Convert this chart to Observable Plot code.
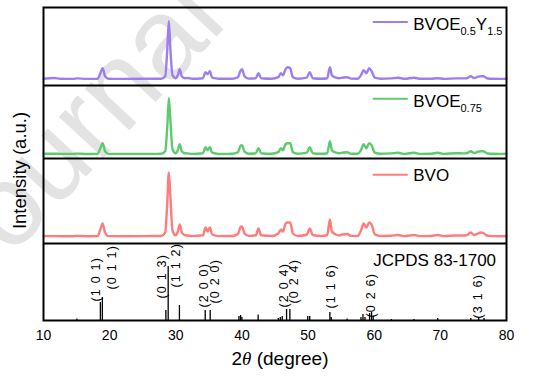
<!DOCTYPE html>
<html><head><meta charset="utf-8">
<script src="https://cdn.jsdelivr.net/npm/d3@7"></script>
<script src="https://cdn.jsdelivr.net/npm/@observablehq/plot@0.6"></script>
<style>
html,body{margin:0;padding:0;background:#fff;overflow:hidden;}
#chart{width:554px;height:382px;}
</style></head><body><div id="chart"></div>
<script>
// ---- Data ----
const twoTheta = [
  10, 11.6, 12.5, 14.5, 15.1, 16.5, 18.2, 18.6, 18.95, 19.3,
  19.8, 22, 25, 27.8, 28.4, 28.7, 28.95, 29.2, 29.5, 30.0,
  30.3, 30.6, 30.9, 31.4, 31.8, 32.5, 34.1, 34.5, 34.8, 35.15,
  35.5, 36.5, 38.5, 39.4, 39.75, 40.0, 40.4, 41.0, 42.1, 42.5,
  42.9, 44.5, 45.5, 45.9, 46.2, 46.6, 46.9, 47.3, 47.7, 48.5,
  49.8, 50.25, 50.7, 52.0, 52.9, 53.3, 53.6, 54.2, 54.7, 55.2,
  55.9, 56.5, 57.5, 58.0, 58.4, 58.8, 59.25, 59.6, 60.1, 61.0,
  62.5, 63.6, 64.6, 66.0, 67.0, 68.5, 69.6, 70.6, 72.3, 73.5,
  74.0, 74.6, 75.1, 75.7, 76.1, 76.5, 77.0, 78.0, 79.0, 80
];
const intBVOE05Y15 = [
  0.5, 1.2, 0.5, 0.3, 0.8, 0.3, 0.5, 6, 11, 3,
  0.4, 0.3, 0.4, 0.5, 3, 28, 58, 28, 4, 1,
  4, 10, 3, 1, 1.2, 0.4, 1, 7, 5, 8,
  1.5, 0.4, 0.5, 2, 8, 10, 3, 0.6, 1, 6,
  1, 0.5, 2, 6, 4, 10, 12, 11, 2, 0.5,
  1.5, 7, 1, 0.5, 1, 12, 4, 1.5, 1, 1.5,
  2, 0.6, 0.5, 4, 9, 6, 11, 8, 1.5, 0.5,
  0.8, 1.5, 0.4, 1.5, 0.4, 0.4, 1, 0.3, 0.8, 0.8,
  1, 3, 1.2, 2.5, 3, 3, 1, 0.4, 0.3, 0.5
];
const intBVOE075 = [
  0.4, 0.5, 0.3, 0.3, 0.6, 0.2, 0.4, 6, 11, 3,
  0.3, 0.3, 0.3, 0.4, 3, 26, 56, 32, 5, 1,
  4, 10, 3, 1, 0.8, 0.3, 1, 7, 4, 7,
  1.5, 0.3, 0.4, 2, 8, 9, 2.5, 0.5, 1, 6,
  1, 0.4, 2, 6, 4, 10, 11, 11, 2, 0.4,
  1.5, 7, 1, 0.4, 1, 13, 4, 1.5, 1, 1.5,
  2, 0.5, 0.5, 4, 10, 6, 11, 9, 1.5, 0.4,
  0.8, 1.5, 0.3, 1.5, 0.3, 0.4, 1.5, 0.3, 1, 0.8,
  1, 3, 1.2, 2.5, 3, 3, 1, 0.4, 0.3, 0.5
];
const intBVO = [
  0.4, 0.4, 0.3, 0.3, 0.6, 0.3, 0.5, 7, 13, 4,
  0.4, 0.3, 0.4, 0.5, 4, 32, 64, 38, 6, 1.2,
  5, 12, 4, 1.2, 1, 0.4, 1.2, 9, 5, 9,
  2, 0.4, 0.5, 2.5, 9, 10, 3, 0.6, 1.2, 8,
  1.2, 0.5, 3, 7, 5, 13, 14, 14, 3, 0.5,
  2, 8, 1.5, 0.5, 1.5, 17, 5, 2, 1, 2,
  2.5, 0.6, 0.6, 6, 13, 9, 14, 12, 2, 0.5,
  0.8, 1.5, 0.4, 1.5, 0.4, 0.5, 1.5, 0.4, 1, 1,
  1.2, 4, 1.5, 3, 4, 3.5, 1, 0.4, 0.3, 0.5
];
// JCPDS 83-1700 reference sticks
const jcpdsPos = [15.05, 18.6, 18.9, 28.5, 28.85, 30.55, 34.45, 35.2, 39.55, 39.8, 40.0, 42.45, 45.5, 45.8, 46.1, 46.75, 47.25, 49.95, 50.25, 53.3, 53.5, 55.9, 58.0, 58.3, 58.6, 59.3, 59.6, 59.85, 62.6, 66.0, 69.6, 74.6, 75.8, 76.6];
const jcpdsInt = [1.5, 18, 23, 10, 54, 15, 10, 10, 4, 5, 3, 5.5, 2, 3, 4, 11, 11, 4, 4, 8, 3, 1.5, 3, 6, 3, 7, 8, 4, 1, 1, 2, 2, 3, 2];
// hkl labels
const hklText = ["(1 0 1)", "(0 1 1)", "(0 1 3)", "(1 1 2)", "(2 0 0)", "(0 2 0)", "(2 0 4)", "(0 2 4)", "(1 1 6)", "(0 2 6)", "(3 1 6)"];
const hklPos = [17.9, 20.4, 27.9, 30.0, 34.2, 36.0, 46.3, 47.9, 53.5, 59.5, 75.7];
const hklLift = [19, 31, 22, 33, 13, 17, 13, 17, 12, 3, 2];
const xTicks = [10, 20, 30, 40, 50, 60, 70, 80];
const seriesNames = ["BVOE_{0.5}Y_{1.5}", "BVOE_{0.75}", "BVO"];
const seriesColors = ["#9d7ef0", "#5ccb6d", "#ff7c7c"];
const refName = "JCPDS 83-1700";
const yLabel = "Intensity (a.u.)";
const xLabel = "2*θ* (degree)";

// ---- layout of the stacked panels (in y units) ----
const panelEdges = [77, 162, 235];
const baselines = [241.3, 166.3, 84];
const legendLineY = [298.5, 221.7, 145.7];
const legendTextY = [291, 214, 140];
const refTextY = 55;
const yLabelPos = {x: 10, y: 150};

const series = [intBVOE05Y15, intBVOE075, intBVO];
const lineMarks = series.map((vals, k) =>
  Plot.line(twoTheta.map((x, i) => ({x, y: baselines[k] + vals[i]})),
    {x: "x", y: "y", stroke: seriesColors[k], strokeWidth: 2.4, curve: "monotone-x"}));

const sticks = jcpdsPos.map((x, i) => ({x, h: jcpdsInt[i]}));
const hkl = hklText.map((t, i) => ({t, x: hklPos[i], y: hklLift[i]}));
const legendRows = seriesNames.map((name, k) => ({name, color: seriesColors[k], ly: legendLineY[k], ty: legendTextY[k]}));

const plot = Plot.plot({
  width: 554, height: 382,
  marginLeft: 43, marginRight: 48, marginTop: 7, marginBottom: 62,
  style: {fontFamily: "'Liberation Sans', Arial, sans-serif", fontSize: "14px", background: "transparent", color: "#000"},
  x: {domain: [10, 80], ticks: xTicks, tickSize: 0, tickPadding: 10, label: null},
  y: {domain: [0, 313], axis: null},
  marks: [
    Plot.text(["Journal"], {frameAnchor: "top-left", dx: -72, dy: 292, rotate: -47, textAnchor: "start", lineAnchor: "bottom", fontSize: 115, fill: "#e3e3e3"}),
    ...lineMarks,
    Plot.ruleX(sticks, {x: "x", y1: 0, y2: "h", stroke: "#000", strokeWidth: 1.3}),
    Plot.text(hkl, {x: "x", y: "y", text: "t", rotate: -90, textAnchor: "start", fontSize: 12.5, fill: "#000"}),
    ...legendRows.map(d => Plot.ruleY([d.ly], {x1: 59.85, x2: 65.15, stroke: d.color, strokeWidth: 2})),
    Plot.text(legendRows, {x: 65.9, y: "ty", text: "name", textAnchor: "start", lineAnchor: "bottom", fontSize: 17, fill: "#000"}),
    Plot.text([refName], {x: 59.85, y: refTextY, textAnchor: "start", lineAnchor: "bottom", fontSize: 17, fill: "#000"}),
    Plot.ruleY(panelEdges, {stroke: "#000", strokeWidth: 2}),
    Plot.frame({stroke: "#000", strokeWidth: 2}),
    Plot.text([xLabel], {frameAnchor: "bottom", dx: 5, dy: 44, fontSize: 19, fill: "#000"}),
    Plot.text([yLabel], {x: () => yLabelPos.x, y: () => yLabelPos.y, dx: -23, rotate: -90, fontSize: 18.5, fill: "#000"})
  ]
});

// letter spacing for hkl labels
d3.select(plot).selectAll("text").filter(function() { return /^\(\d \d \d\)$/.test(this.textContent); })
  .attr("letter-spacing", 1.2);

// rich text: _{sub} and *italic*
d3.select(plot).selectAll("text").each(function() {
  const t = this.textContent;
  if (!/_\{|\*/.test(t)) return;
  const re = /_\{([^}]*)\}|\*([^*]*)\*|([^_*]+)/g;
  const el = d3.select(this);
  el.text(null);
  let shift = 0, m;
  while ((m = re.exec(t))) {
    if (m[1] !== undefined) {
      el.append("tspan").attr("dy", 5 - shift).attr("font-size", 11).text(m[1]);
      shift = 5;
    } else if (m[2] !== undefined) {
      el.append("tspan").attr("dy", -shift).attr("font-style", "italic").attr("font-family", "'Liberation Serif', serif").text(m[2]);
      shift = 0;
    } else {
      el.append("tspan").attr("dy", -shift).text(m[3]);
      shift = 0;
    }
  }
});

document.getElementById("chart").appendChild(plot);
</script>
</body></html>
